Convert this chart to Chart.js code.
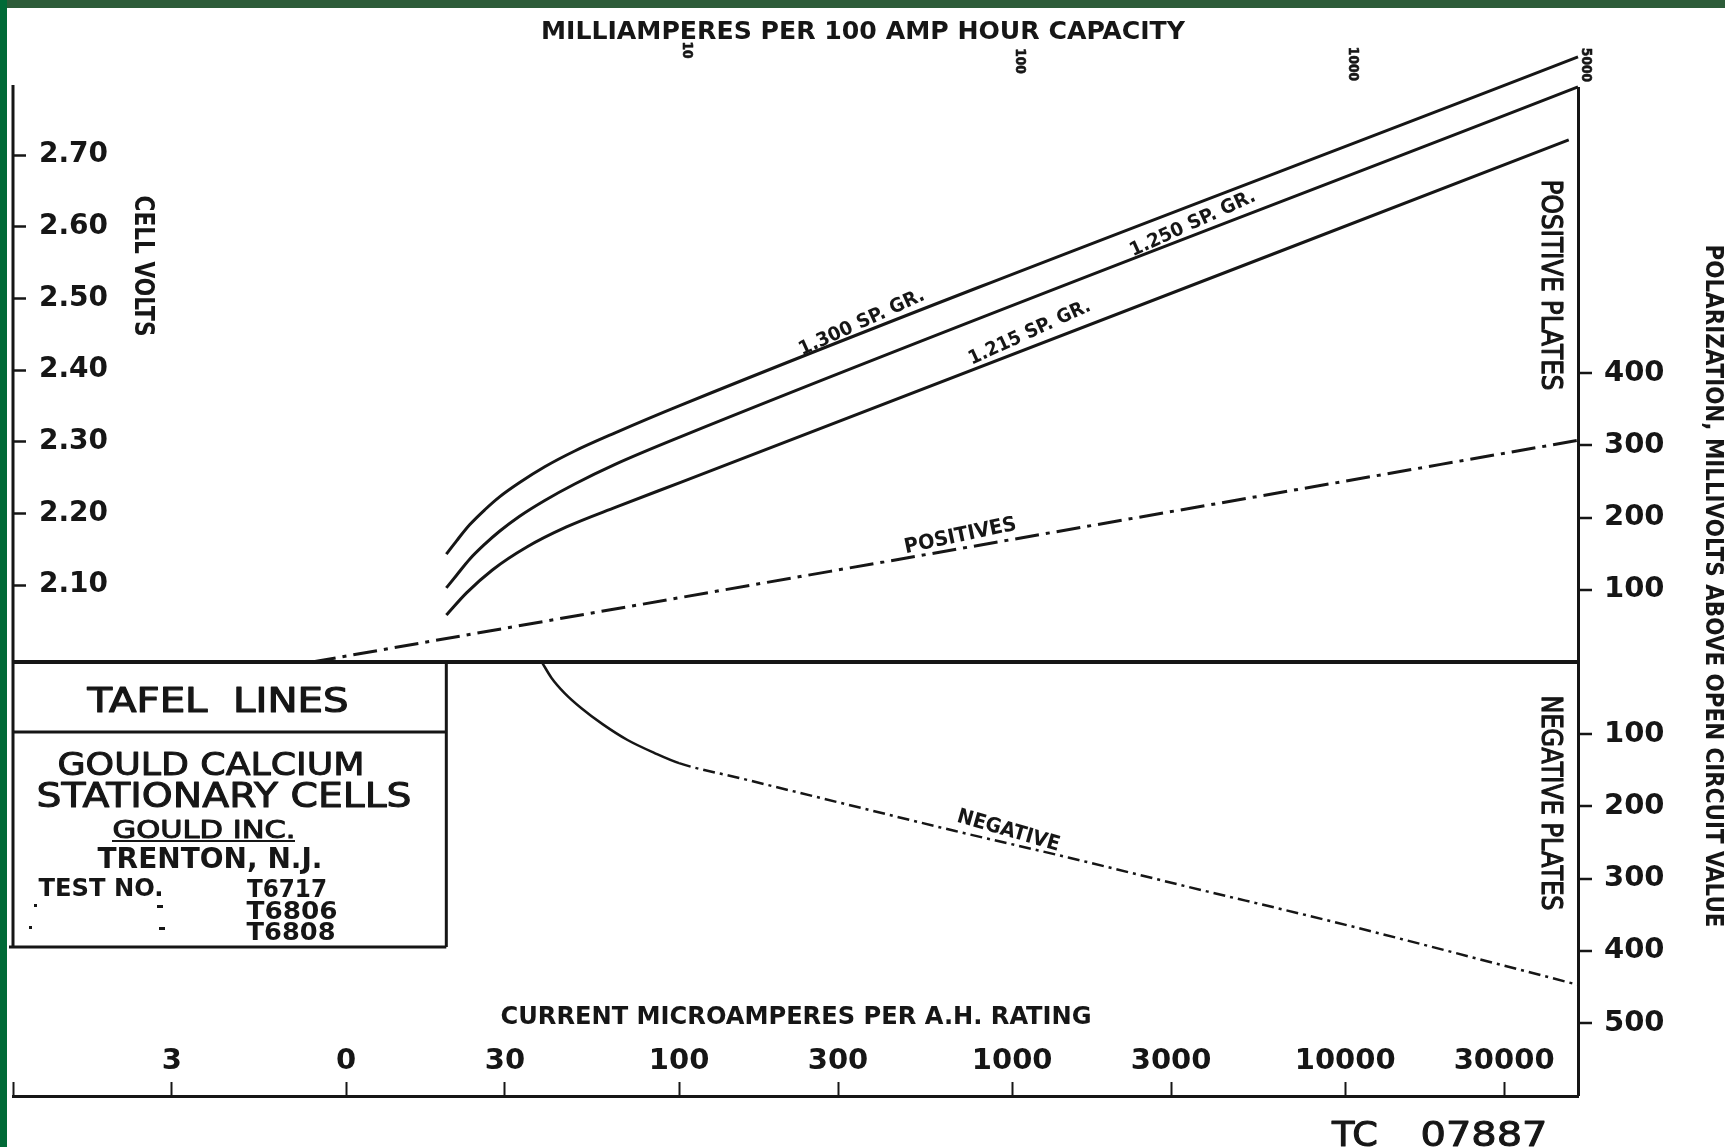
<!DOCTYPE html>
<html>
<head>
<meta charset="utf-8">
<title>Tafel lines - Gould calcium stationary cells</title>
<script src="https://cdn.jsdelivr.net/npm/chart.js@4.4.1/dist/chart.umd.min.js"></script>
<style>
  html, body { margin: 0; padding: 0; background: #fff; }
  #sheet { position: relative; width: 1725px; height: 1147px; overflow: hidden; background: #fff; }
  #bandTop { position: absolute; left: 0; top: 0; width: 1725px; height: 8px; background: #2d5c39; }
  #bandLeft { position: absolute; left: 0; top: 0; width: 7px; height: 1147px; background: #006a37; }
  canvas { position: absolute; left: 0; top: 0; }
</style>
</head>
<body>
<div id="sheet">
  <div id="bandTop"></div>
  <div id="bandLeft"></div>
  <canvas id="tafel" width="1725" height="1147"></canvas>
</div>
<script>
// --- data --------------------------------------------------------------
// current in microamperes per A.H. rating (bottom scale)
const currentSg1300 = [20.0, 21.5, 23.5, 26.1, 28.9, 33.2, 39.5, 48.6, 64.0, 100, 50000];
const voltsSg1300   = [2.143, 2.162, 2.184, 2.205, 2.223, 2.243, 2.265, 2.287, 2.312, 2.350, 2.837];
const currentSg1250 = [20.0, 21.5, 23.5, 26.1, 28.9, 33.2, 39.5, 48.6, 64.0, 100, 50000];
const voltsSg1250   = [2.096, 2.114, 2.136, 2.157, 2.175, 2.196, 2.218, 2.241, 2.268, 2.306, 2.795];
const currentSg1215 = [20.0, 23.0, 27.5, 34.9, 45.9, 64.9, 102, 46900];
const voltsSg1215   = [2.058, 2.089, 2.121, 2.153, 2.181, 2.209, 2.244, 2.721];

// polarization, millivolts above open circuit value
const positivesCurrent = [7.9, 100, 50000];
const positivesMv      = [0, 89, 307];
const negativeCurrent  = [38.7, 41.4, 45.3, 50.9, 58.9, 70.0, 84.4, 100, 153, 305, 675, 1484, 3283, 9450, 50000];
const negativeMv       = [0, -22, -43, -64, -86, -108, -126, -140, -161, -195, -234, -271, -310, -361, -447];

// scales
const voltTicks = [2.10, 2.20, 2.30, 2.40, 2.50, 2.60, 2.70];
const voltTickLabels = ['2.10', '2.20', '2.30', '2.40', '2.50', '2.60', '2.70'];
const mvTicks = [-500, -400, -300, -200, -100, 0, 100, 200, 300, 400];
const mvTickLabels = ['500', '400', '300', '200', '100', '', '100', '200', '300', '400'];
const currentTicks = [1, 3, 10, 30, 100, 300, 1000, 3000, 10000, 30000];
const currentTickLabels = ['', '3', '0', '30', '100', '300', '1000', '3000', '10000', '30000'];
// top scale: milliamperes per 100 A.H. = microamperes per A.H. / 10
const milliampTicks = [100, 1000, 10000, 50000];
const milliampTickLabels = ['10', '100', '1000', '5000'];

// --- look ---------------------------------------------------------------
const INK = '#161616';
const NARROW = "'DejaVu Sans Condensed', 'DejaVu Sans', sans-serif";
const ROUND = "'DejaVu Sans', sans-serif";

const milliampRows = [50, 61, 64, 65];
const block = { divider: 732, bottom: 947 };

// s = extra stroke to thicken the lettering a little
const captions = [
  { t: 'MILLIAMPERES PER 100 AMP HOUR CAPACITY', x: 863, y: 30, cap: 18, w: 644, b: 1, f: NARROW },
  { t: 'CURRENT MICROAMPERES PER A.H. RATING', x: 796, y: 1015, cap: 18, w: 591, b: 1, f: NARROW },
  { t: 'CELL VOLTS', x: 144, y: 266, cap: 19, w: 141, b: 1, f: NARROW, a: 90 },
  { t: 'POSITIVE PLATES', x: 1552, y: 285, cap: 21, w: 211, f: ROUND, a: 90, s: 1.2 },
  { t: 'NEGATIVE PLATES', x: 1552, y: 803, cap: 21, w: 215, f: ROUND, a: 90, s: 1.2 },
  { t: 'POLARIZATION, MILLIVOLTS ABOVE OPEN CIRCUIT VALUE', x: 1715, y: 586, cap: 18, w: 683, b: 1, f: NARROW, a: 90 },
  { t: '1.300 SP. GR.', x: 861, y: 321, cap: 14, w: 136, b: 1, f: NARROW, a: -24.5 },
  { t: '1.250 SP. GR.', x: 1192, y: 222, cap: 14, w: 136, b: 1, f: NARROW, a: -24.5 },
  { t: '1.215 SP. GR.', x: 1029, y: 331, cap: 14, w: 132, b: 1, f: NARROW, a: -24.5 },
  { t: 'POSITIVES', x: 960, y: 534, cap: 15, w: 114, b: 1, f: NARROW, a: -12 },
  { t: 'NEGATIVE', x: 1009, y: 829, cap: 15, w: 106, b: 1, f: NARROW, a: 16 },
  { t: 'TAFEL  LINES', x: 218, y: 699, cap: 25, w: 261, f: ROUND, s: 1.2 },
  { t: 'GOULD CALCIUM', x: 211, y: 763, cap: 23, w: 307, f: ROUND, s: 1 },
  { t: 'STATIONARY CELLS', x: 224, y: 795, cap: 24, w: 375, f: ROUND, s: 1 },
  { t: 'GOULD INC.', x: 204, y: 829, cap: 18, w: 183, f: ROUND, s: 1 },
  { t: 'TRENTON, N.J.', x: 210, y: 857, cap: 21, w: 225, b: 1, f: ROUND },
  { t: 'TEST NO.', x: 101, y: 887, cap: 18, w: 125, b: 1, f: ROUND },
  { t: 'T6717', x: 287, y: 888, cap: 18, w: 80, b: 1, f: ROUND },
  { t: 'T6806', x: 292, y: 910, cap: 18, w: 91, b: 1, f: ROUND },
  { t: 'T6808', x: 291, y: 931, cap: 18, w: 89, b: 1, f: ROUND },
  { t: 'TC', x: 1355, y: 1133, cap: 25, w: 46, f: ROUND, s: 1 },
  { t: '07887', x: 1484, y: 1133, cap: 25, w: 127, f: ROUND, s: 1 }
];

function points(xs, ys) {
  return xs.map((x, i) => ({ x: x, y: ys[i] }));
}

// text centred on (cx, cy), squeezed to the lettering width of the sheet
function ink(ctx, text, cx, cy, o) {
  const size = o.cap / 0.73;
  ctx.save();
  ctx.translate(cx, cy);
  if (o.a) ctx.rotate(o.a * Math.PI / 180);
  ctx.font = (o.b ? 'bold ' : '') + size.toFixed(1) + 'px ' + (o.f || ROUND);
  ctx.textAlign = 'center';
  ctx.textBaseline = 'alphabetic';
  if (o.w) ctx.scale(o.w / ctx.measureText(text).width, 1);
  ctx.fillStyle = INK;
  ctx.fillText(text, 0, o.cap / 2);
  if (o.s) {
    ctx.strokeStyle = INK;
    ctx.lineWidth = o.s;
    ctx.lineJoin = 'round';
    ctx.strokeText(text, 0, o.cap / 2);
  }
  ctx.restore();
}

const sheetPlugin = {
  id: 'sheet',
  afterDraw(chart) {
    const ctx = chart.ctx;
    const area = chart.chartArea;
    const x = chart.scales.x;
    const zeroY = chart.scales.yMV.getPixelForValue(0);
    const blockRight = x.getPixelForValue(20);

    ctx.save();
    ctx.strokeStyle = INK;
    ctx.lineWidth = 3;
    ctx.beginPath();
    // cell volts axis stops at the foot of the title block
    ctx.moveTo(area.left, 85);
    ctx.lineTo(area.left, block.bottom);
    // title block
    ctx.moveTo(blockRight, zeroY);
    ctx.lineTo(blockRight, block.bottom);
    ctx.moveTo(area.left, block.divider);
    ctx.lineTo(blockRight, block.divider);
    ctx.moveTo(9, block.bottom);
    ctx.lineTo(blockRight, block.bottom);
    ctx.stroke();
    // underline of GOULD INC.
    ctx.lineWidth = 2;
    ctx.beginPath();
    ctx.moveTo(112, 841);
    ctx.lineTo(295, 841);
    ctx.stroke();
    // ditto marks under TEST NO.
    ctx.fillStyle = INK;
    ctx.fillRect(157, 905, 6, 3);
    ctx.fillRect(159, 927, 6, 3);
    ctx.fillRect(34, 904, 3, 3);
    ctx.fillRect(29, 926, 3, 3);
    ctx.restore();

    captions.forEach(c => ink(ctx, c.t, c.x, c.y, c));

    // milliamperes per 100 A.H., lettered sideways along the top
    milliampTicks.forEach((v, i) => {
      ink(ctx, milliampTickLabels[i], x.getPixelForValue(v) + 9, milliampRows[i],
        { cap: 10, b: 1, f: NARROW, a: 90, s: 0.6 });
    });
  }
};

const lineStyle = {
  borderColor: INK,
  pointRadius: 0,
  fill: false,
  clip: false,
  cubicInterpolationMode: 'monotone'
};

new Chart(document.getElementById('tafel'), {
  type: 'line',
  data: {
    datasets: [
      Object.assign({ label: '1.300 SP. GR.', data: points(currentSg1300, voltsSg1300), yAxisID: 'yV', borderWidth: 3 }, lineStyle),
      Object.assign({ label: '1.250 SP. GR.', data: points(currentSg1250, voltsSg1250), yAxisID: 'yV', borderWidth: 3 }, lineStyle),
      Object.assign({ label: '1.215 SP. GR.', data: points(currentSg1215, voltsSg1215), yAxisID: 'yV', borderWidth: 3 }, lineStyle),
      Object.assign({ label: 'POSITIVES', data: points(positivesCurrent, positivesMv), yAxisID: 'yMV',
        borderWidth: 3, borderDash: [24, 7, 4, 7] }, lineStyle),
      Object.assign({ label: 'NEGATIVE', data: points(negativeCurrent, negativeMv), yAxisID: 'yMV',
        borderWidth: 2.5,
        segment: { borderDash: c => (c.p0DataIndex >= 7 ? [12, 5, 3, 5] : undefined) } }, lineStyle)
    ]
  },
  options: {
    responsive: false,
    animation: false,
    events: [],
    layout: { padding: { top: 88, left: 0, right: 0, bottom: 0 } },
    plugins: { legend: { display: false }, tooltip: { enabled: false } },
    scales: {
      x: {
        type: 'logarithmic',
        position: 'bottom',
        min: 1,
        max: 50000,
        afterBuildTicks: s => { s.ticks = currentTicks.map(v => ({ value: v })); },
        afterFit: s => { s.height = 51; s.paddingLeft = 0; s.paddingRight = 0; },
        ticks: {
          mirror: true,
          padding: 17,
          autoSkip: false,
          maxRotation: 0,
          minRotation: 0,
          color: INK,
          font: { family: ROUND, size: 29, weight: 'bold' },
          callback: (v, i) => currentTickLabels[i]
        },
        grid: { drawOnChartArea: false, tickLength: -14, tickWidth: 2, tickColor: INK },
        border: { display: true, width: 3, color: INK }
      },
      yV: {
        type: 'linear',
        position: 'left',
        min: 1.387,
        max: 2.7935,
        afterBuildTicks: s => { s.ticks = voltTicks.map(v => ({ value: v })); },
        afterFit: s => { s.width = 13; s.paddingTop = 0; s.paddingBottom = 0; },
        ticks: {
          mirror: true,
          padding: 26,
          color: INK,
          font: { family: ROUND, size: 28, weight: 'bold' },
          callback: (v, i) => voltTickLabels[i]
        },
        grid: { drawOnChartArea: false, tickLength: -13, tickWidth: 2.5, tickColor: INK },
        border: { display: false }
      },
      yMV: {
        type: 'linear',
        position: 'right',
        min: -601,
        max: 795,
        afterBuildTicks: s => { s.ticks = mvTicks.map(v => ({ value: v })); },
        afterFit: s => { s.width = 147; s.paddingTop = 0; s.paddingBottom = 0; },
        ticks: {
          padding: 12,
          color: INK,
          font: { family: ROUND, size: 29, weight: 'bold' },
          callback: (v, i) => mvTickLabels[i]
        },
        grid: {
          drawOnChartArea: true,
          tickLength: 14,
          color: c => (c.tick && c.tick.value === 0 ? INK : 'rgba(0,0,0,0)'),
          lineWidth: c => (c.tick && c.tick.value === 0 ? 4 : 0),
          tickColor: c => (c.tick && c.tick.value === 0 ? 'rgba(0,0,0,0)' : INK),
          tickWidth: 2.5
        },
        border: { display: true, width: 3, color: INK }
      }
    }
  },
  plugins: [sheetPlugin]
});
</script>
</body>
</html>
